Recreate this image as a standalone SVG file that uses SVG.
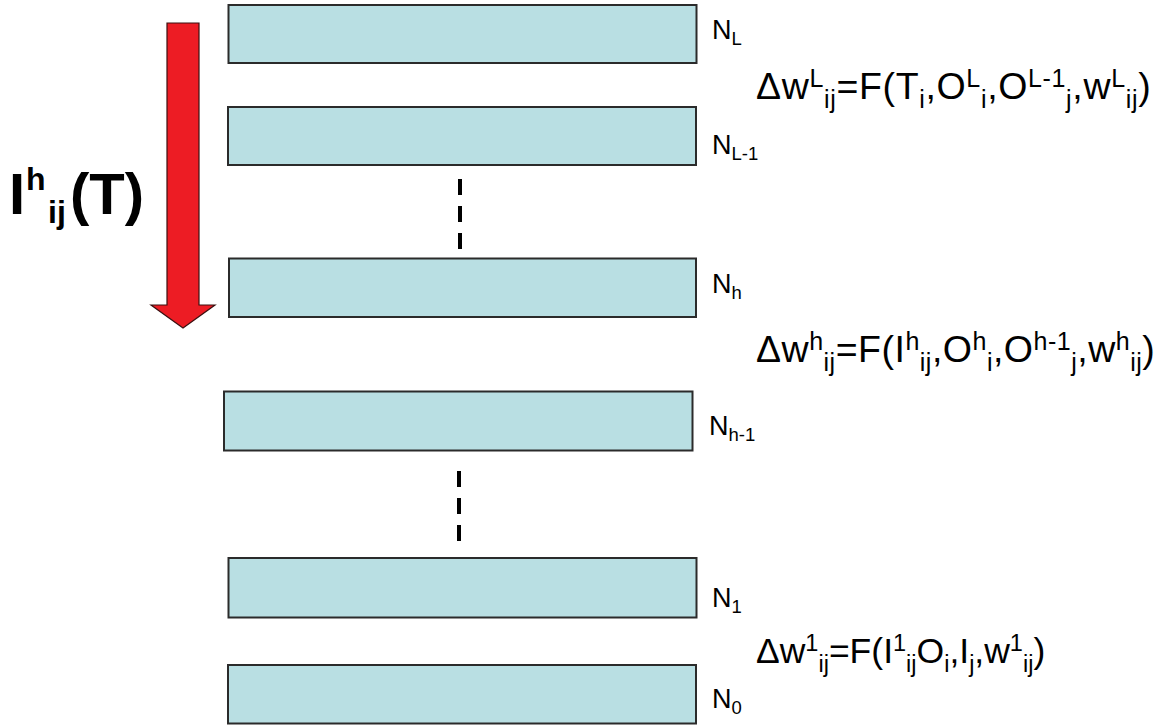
<svg xmlns="http://www.w3.org/2000/svg" width="1159" height="727" viewBox="0 0 1159 727">
  <style>
    .layer { fill: #B9DFE3; stroke: #2b2b2b; stroke-width: 2; }
    .lbl { font-family: "Liberation Sans", Arial, sans-serif; font-size: 27px; fill: #000; }
    .lbl .s { font-size: 18.5px; }
    .eq { font-family: "Liberation Sans", Arial, sans-serif; font-size: 37.5px; fill: #000; }
    .eq .s { font-size: 25px; }
    .eq.sm { font-size: 35.5px; }
    .eq.sm .s { font-size: 23.5px; }
    .big { font-family: "Liberation Sans", Arial, sans-serif; font-weight: bold; font-size: 58px; fill: #000; }
    .big .s { font-size: 32px; }
    .dash { stroke: #000; stroke-width: 4; stroke-dasharray: 16 11; fill: none; }
    .flow { fill: #ED1C24; stroke: #3a1010; stroke-width: 1.2; }
  </style>

  <!-- layers -->
  <g id="layer-L">
    <rect class="layer" x="228.5" y="5" width="468" height="58"/>
    <text class="lbl" x="712" y="39">N<tspan class="s" dy="6">L</tspan></text>
  </g>
  <g id="layer-L-1">
    <rect class="layer" x="228" y="107" width="468" height="58"/>
    <text class="lbl" x="712" y="154">N<tspan class="s" dy="6">L-1</tspan></text>
  </g>
  <g id="layer-h">
    <rect class="layer" x="229" y="258.5" width="467" height="58.5"/>
    <text class="lbl" x="712" y="293">N<tspan class="s" dy="6">h</tspan></text>
  </g>
  <g id="layer-h-1">
    <rect class="layer" x="224" y="391.5" width="468.5" height="59"/>
    <text class="lbl" x="709" y="435">N<tspan class="s" dy="6">h-1</tspan></text>
  </g>
  <g id="layer-1">
    <rect class="layer" x="228.5" y="558" width="468" height="59.5"/>
    <text class="lbl" x="712" y="607">N<tspan class="s" dy="6">1</tspan></text>
  </g>
  <g id="layer-0">
    <rect class="layer" x="228" y="665" width="468" height="58.5"/>
    <text class="lbl" x="712" y="708">N<tspan class="s" dy="6">0</tspan></text>
  </g>

  <!-- connectors: elided layers and the downward signal arrow -->
  <g id="connectors">
    <line class="dash" x1="460" y1="179" x2="460" y2="249"/>
    <line class="dash" x1="459" y1="471" x2="459" y2="541"/>
    <polygon class="flow" points="167,23 199,23 199,305 215,305 183,328 151,305 167,305"/>
  </g>

  <!-- update rules -->
  <g id="rule-L">
    <text class="eq" x="756" y="99" letter-spacing="0.65">Δw<tspan class="s" dy="-12">L</tspan><tspan class="s" dy="21">ij</tspan><tspan dy="-9">=F(T</tspan><tspan class="s" dy="9">i</tspan><tspan dy="-9">,O</tspan><tspan class="s" dy="-12">L</tspan><tspan class="s" dy="21">i</tspan><tspan dy="-9">,O</tspan><tspan class="s" dy="-12">L-1</tspan><tspan class="s" dy="21">j</tspan><tspan dy="-9">,w</tspan><tspan class="s" dy="-12">L</tspan><tspan class="s" dy="21">ij</tspan><tspan dy="-9">)</tspan></text>
  </g>
  <g id="rule-h">
    <text class="eq" x="756" y="362" letter-spacing="0.5">Δw<tspan class="s" dy="-12">h</tspan><tspan class="s" dy="21">ij</tspan><tspan dy="-9">=F(I</tspan><tspan class="s" dy="-12">h</tspan><tspan class="s" dy="21">ij</tspan><tspan dy="-9">,O</tspan><tspan class="s" dy="-12">h</tspan><tspan class="s" dy="21">i</tspan><tspan dy="-9">,O</tspan><tspan class="s" dy="-12">h-1</tspan><tspan class="s" dy="21">j</tspan><tspan dy="-9">,w</tspan><tspan class="s" dy="-12">h</tspan><tspan class="s" dy="21">ij</tspan><tspan dy="-9">)</tspan></text>
  </g>
  <g id="rule-1">
    <text class="eq sm" x="756" y="663">Δw<tspan class="s" dy="-12">1</tspan><tspan class="s" dy="21">ij</tspan><tspan dy="-9">=F(I</tspan><tspan class="s" dy="-12">1</tspan><tspan class="s" dy="21">ij</tspan><tspan dy="-9">O</tspan><tspan class="s" dy="9">i</tspan><tspan dy="-9">,I</tspan><tspan class="s" dy="9">j</tspan><tspan dy="-9">,w</tspan><tspan class="s" dy="-12">1</tspan><tspan class="s" dy="21">ij</tspan><tspan dy="-9">)</tspan></text>
  </g>

  <!-- signal label -->
  <g id="signal-label">
    <text class="big" x="9" y="214">I<tspan class="s" x="26" dy="-24">h</tspan><tspan class="s" x="48" dy="33">ij</tspan><tspan x="70" dy="-9">(T)</tspan></text>
  </g>
</svg>
